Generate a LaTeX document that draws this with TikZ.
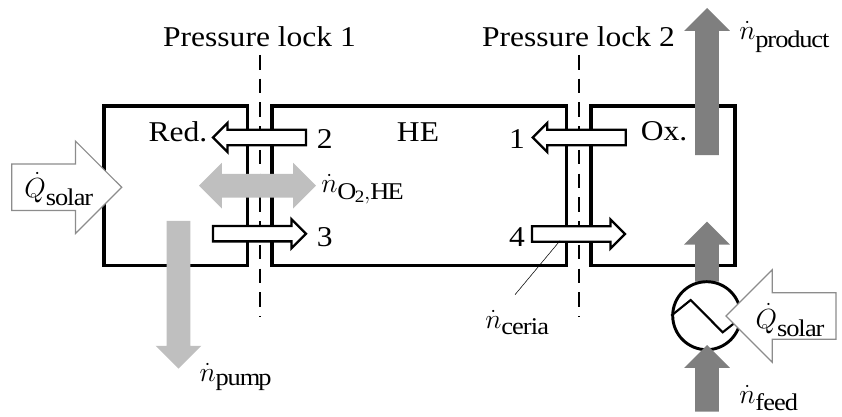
\documentclass[tikz,border=0pt]{standalone}
\usepackage{fontspec}
\setmainfont[FakeStretch=1.1]{Liberation Serif}
\DeclareMathSizes{21.5}{21.5}{18}{13}
\usetikzlibrary{shapes.arrows}

\definecolor{flowLight}{HTML}{BFBFBF}
\definecolor{flowDark}{HTML}{7F7F7F}
\definecolor{solarEdge}{HTML}{8C8C8C}

\tikzset{
  chamber/.style={line width=2.3pt,miter limit=10},
  lockline/.style={line width=2.2pt,dash pattern=on 10.9pt off 6.9pt},
  flowbar/.style={single arrow,single arrow head extend=8.3pt,minimum width=34pt,
    inner sep=8.7pt,outer sep=0pt,draw=none},
  ceriaflow/.style={single arrow,single arrow head extend=5.2pt,minimum width=20pt,
    minimum height=69.75pt,inner xsep=0pt,inner ysep=4.9pt,outer sep=0pt,draw=black,fill=white,line width=1.7pt},
  solarflow/.style={single arrow,single arrow head extend=17.2pt,minimum width=68.5pt,
    minimum height=82.5pt,inner xsep=0pt,inner ysep=17pt,outer sep=0pt,draw=solarEdge,fill=white,line width=0.9pt},
  flowlabel/.style={anchor=base west,inner sep=0pt}
}

\begin{document}
\begin{tikzpicture}[x=0.75pt,y=-0.75pt,font=\fontsize{21.5}{26}\selectfont]
  \useasboundingbox (0,0) rectangle (842,417);

  % Chambers
  \draw[chamber] (104,106) rectangle (247.5,265.5);
  \draw[chamber] (272,106) rectangle (566.5,265.5);
  \draw[chamber] (591,106) rectangle (735,265.5);

  % Pressure locks
  \node[anchor=base] (lockone) at (259.5,46.5) {Pressure lock 1};
  \node[anchor=base] (locktwo) at (578.5,46.5) {Pressure lock 2};
  \coordinate (lockonetop) at (260,55);
  \coordinate (lockonebot) at (260,316.5);
  \coordinate (locktwotop) at (579,55);
  \coordinate (locktwobot) at (579,316.5);
  \draw[lockline] (lockonetop) -- (lockonebot);
  \draw[lockline] (locktwotop) -- (locktwobot);

  % Ceria flows
  \node[ceriaflow,shape border rotate=180,anchor=tip] (ceriatwo) at (213,137.5) {};
  \node[ceriaflow,anchor=tip] (ceriathree) at (306,233.7) {};
  \node[ceriaflow,shape border rotate=180,anchor=tip] (ceriaone) at (532.7,137.5) {};
  \node[ceriaflow,anchor=tip] (ceriafour) at (625,234) {};

  % Gas flows
  \node[double arrow,double arrow head extend=8.3pt,minimum width=34pt,minimum height=87.75pt,
    inner xsep=0pt,inner ysep=8.7pt,outer sep=0pt,fill=flowLight] (oxygen) at (257.5,185.7) {};
  \node[flowbar,fill=flowLight,shape border rotate=270,minimum height=110.8pt,anchor=tip] (pump) at (178.5,368.7) {};
  \node[flowbar,fill=flowDark,shape border rotate=90,minimum height=110.3pt,anchor=tip] (product) at (707,8) {};
  \node[flowbar,fill=flowDark,shape border rotate=90,minimum height=45pt,anchor=tip] (feedin) at (707,221.7) {};

  % Heat exchanger
  \node[circle,draw,fill=white,line width=2.2pt,minimum size=51pt,inner sep=0pt] (exchanger) at (706.7,315.7) {};
  \draw[line width=1.6pt] (exchanger.180) -- (690.7,300) -- (722.7,332.3) -- (737,321);
  \node[flowbar,fill=flowDark,shape border rotate=90,minimum height=50pt,anchor=tip] (feed) at (707,345) {};

  % Solar input
  \node[solarflow,anchor=tip] (solarred) at (121.7,187.3) {};
  \node[solarflow,shape border rotate=180,anchor=tip] (solarfeed) at (726,316) {};

  % Chamber labels
  \node (red) at (178,131.7) {Red.};
  \node (he) at (418,132.5) {HE};
  \node (ox) at (664,131.7) {Ox.};

  % State numbers
  \node (statetwo) at (324.7,139.5) {2};
  \node (statethree) at (324.7,236.7) {3};
  \node (stateone) at (517,139.5) {1};
  \node (statefour) at (517,236.7) {4};

  % Values
  \node (qred) at (58.7,189) {$\dot{Q}_{\mathrm{solar}}$};
  \node (qfeed) at (790,320) {$\dot{Q}_{\mathrm{solar}}$};
  \node[flowlabel] (ntwo) at (321,193) {$\dot{n}_{\mathrm{O_2,HE}}$};
  \node[flowlabel] (npump) at (199.3,381.7) {$\dot{n}_{\mathrm{pump}}$};
  \node[flowlabel] (nproduct) at (739,40) {$\dot{n}_{\mathrm{product}}$};
  \node[flowlabel] (nfeed) at (739,403) {$\dot{n}_{\mathrm{feed}}$};
  \node[flowlabel] (nceria) at (485,328) {$\dot{n}_{\mathrm{ceria}}$};

  % Leader
  \coordinate (ceriafoot) at (515,294.7);
  \coordinate (ceriahead) at (560,240.7);
  \draw[line width=0.4pt] (ceriafoot) -- (ceriahead);

\end{tikzpicture}
\end{document}
